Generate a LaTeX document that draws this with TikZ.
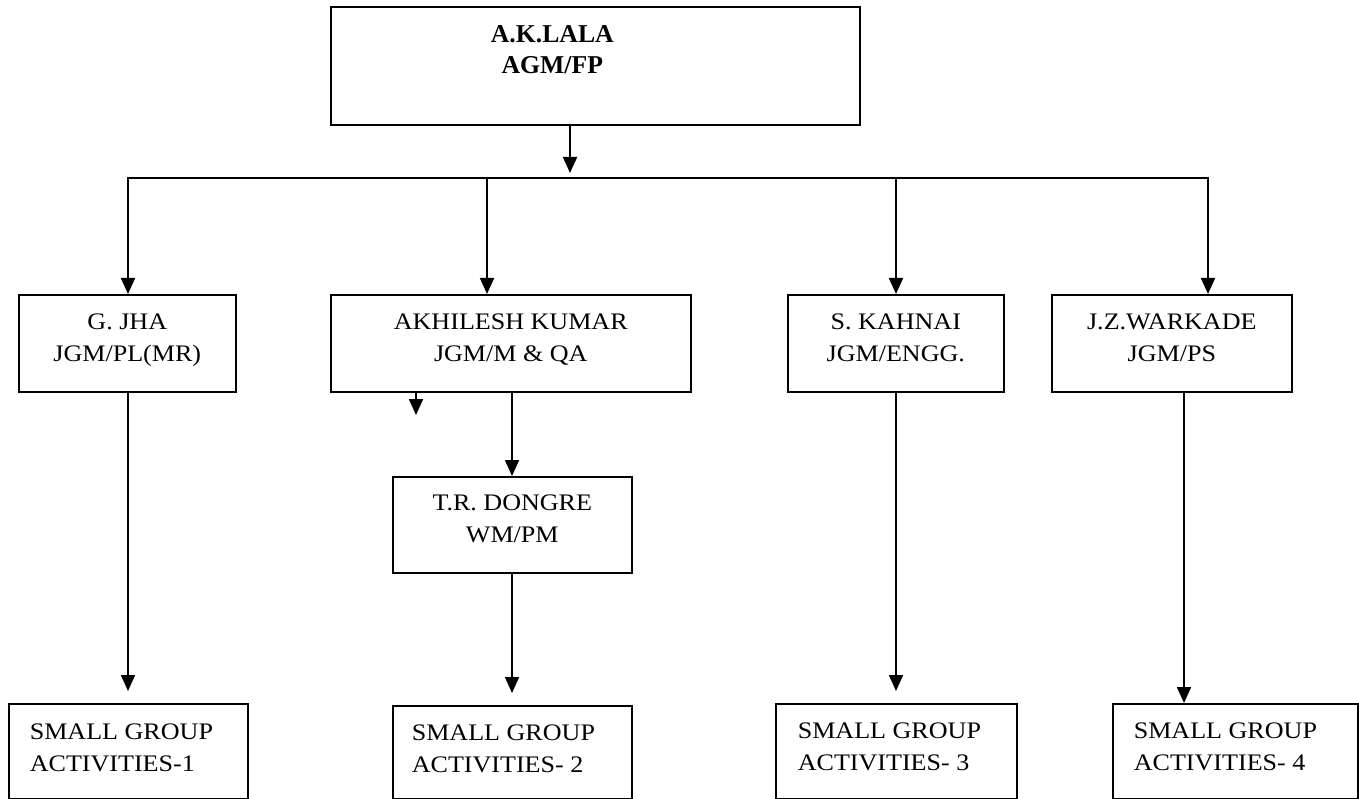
\documentclass[tikz,border=0pt]{standalone}
\usepackage{fontspec}
\setmainfont{Liberation Serif}[FakeStretch=1.1]
\newfontfamily\topfont{Liberation Serif}
\usetikzlibrary{arrows.meta}
\newcommand{\ctwo}[2]{\vtop{\baselineskip=32pt\halign{\hfil##\hfil\cr#1\cr#2\cr}}}
\newcommand{\ltwo}[3]{\vtop{\baselineskip=32pt\hbox to #3{#1\hfil}\hbox to #3{#2\hfil}}}
\tikzset{
  box/.style={draw, line width=1.6pt, rectangle, inner sep=0pt, anchor=north west,
    font=\fontsize{23.7}{32}\selectfont},
  arr/.style={line width=1.8pt, -{Triangle[width=14pt,length=16pt]}},
  conn/.style={line width=1.8pt}
}
\begin{document}
\begin{tikzpicture}[x=1pt,y=-1pt]
\useasboundingbox (0,0) rectangle (1359,799);
% top box
\node[box, minimum width=529pt, text height=36pt, text depth=82pt,
  font=\topfont\bfseries\fontsize{25.7}{31}\selectfont] (top) at (330,6)
  {\vtop{\baselineskip=31pt\halign{\hfil#\hfil\cr A.K.LALA\cr AGM/FP\cr}}\kern86pt};
% second row
\node[box, minimum width=217pt, text height=35pt, text depth=62pt] (gjha) at (18,294) {\ctwo{G. JHA}{JGM/PL(MR)}};
\node[box, minimum width=360pt, text height=35pt, text depth=62pt] (akh) at (330,294) {\ctwo{AKHILESH KUMAR}{JGM/M \& QA}};
\node[box, minimum width=216pt, text height=35pt, text depth=62pt] (kah) at (787,294) {\ctwo{S. KAHNAI}{JGM/ENGG.}};
\node[box, minimum width=240pt, text height=35pt, text depth=62pt] (war) at (1051,294) {\ctwo{J.Z.WARKADE}{JGM/PS}};
% third
\node[box, minimum width=239pt, text height=34pt, text depth=62pt] (don) at (392,476) {\ctwo{T.R. DONGRE}{WM/PM}};
% bottom
\node[box, inner xsep=21pt, text height=36pt, text depth=59pt] (sga1) at (8,703) {\ltwo{SMALL GROUP}{ACTIVITIES-1}{197pt}};
\node[box, inner xsep=19pt, text height=35pt, text depth=58pt] (sga2) at (392,705) {\ltwo{SMALL GROUP}{ACTIVITIES- 2}{201pt}};
\node[box, inner xsep=22pt, text height=35pt, text depth=60pt] (sga3) at (775,703) {\ltwo{SMALL GROUP}{ACTIVITIES- 3}{197pt}};
\node[box, inner xsep=21pt, text height=35pt, text depth=60pt] (sga4) at (1112,703) {\ltwo{SMALL GROUP}{ACTIVITIES- 4}{203pt}};
% coordinates
\coordinate (hub) at (570,173);
\coordinate (barL) at (128,178);
\coordinate (barA) at (487,178);
\coordinate (barK) at (896,178);
\coordinate (barR) at (1208,178);
\coordinate (stub) at (416,415);
\coordinate (dx) at (512,0);
\coordinate (wx) at (1184,0);
% connectors
\draw[arr] (top.south -| hub) -- (hub);
\draw[conn, line cap=rect] (barL) -- (barR);
\draw[arr] (barL) -- (barL |- gjha.north);
\draw[arr] (barA) -- (barA |- akh.north);
\draw[arr] (barK) -- (barK |- kah.north);
\draw[arr] (barR) -- (barR |- war.north);
\draw[arr] (akh.south -| stub) -- (stub);
\draw[arr] (akh.south -| dx) -- (don.north -| dx);
\draw[arr, shorten >=12pt] (gjha.south -| barL) -- (sga1.north -| barL);
\draw[arr, shorten >=12pt] (don.south -| dx) -- (sga2.north -| dx);
\draw[arr, shorten >=12pt] (kah.south -| barK) -- (sga3.north -| barK);
\draw[arr] (war.south -| wx) -- (sga4.north -| wx);
\end{tikzpicture}
\end{document}
